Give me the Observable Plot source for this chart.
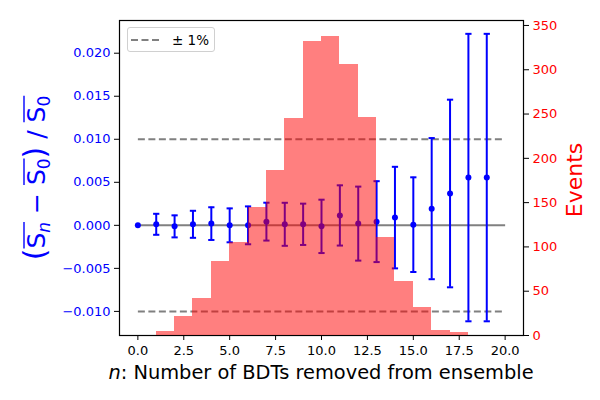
<!DOCTYPE html>
<html>
<head>
<meta charset="utf-8">
<script src="https://cdn.jsdelivr.net/npm/d3@7"></script>
<script src="https://cdn.jsdelivr.net/npm/@observablehq/plot@0.6"></script>
<style>
  body { margin: 0; background: #fff; }
  #wrap { position: relative; width: 600px; height: 400px; font-family: "DejaVu Sans", sans-serif; }
  #wrap svg { position: absolute; left: 0; top: 0; background: transparent; }
  #legend { position: absolute; left: 127px; top: 27px; width: 88px; height: 25px; border: 1px solid #d0d0d0; border-radius: 3px; background: rgba(255,255,255,0.8); box-sizing: border-box; font-size: 13px; }
</style>
</head>
<body>
<div id="wrap"></div>
<script>
// ---- data ----
const nRemoved = [0,1,2,3,4,5,6,7,8,9,10,11,12,13,14,15,16,17,18,19];
const relShift = [0,0.00012,-0.00012,0.00012,0.0002,0,0,0.00043,0.00012,0.00012,-0.00012,0.00115,0.0002,0.00043,0.0009,0.00008,0.00194,0.0037,0.00555,0.00555];
const relErr   = [0,0.00122,0.00128,0.00157,0.0019,0.00197,0.0022,0.0022,0.0025,0.0024,0.0031,0.0035,0.0043,0.0047,0.0059,0.0055,0.0082,0.0109,0.0167,0.0167];
const binStart = [1,2,3,4,5,6,7,8,9,10,11,12,13,14,15,16,17];
const binEnd   = [2,3,4,5,6,7,8,9,10,11,12,13,14,15,16,17,18];
const events   = [5,21,42,83,105,144,186,245,332,338,306,246,111,61,32,6,3];
const bandLevels = [-0.01, 0.01];
const refSpan = [0, 20];
const xTicks = [0,2.5,5,7.5,10,12.5,15,17.5,20];
const yTicks = [-0.01,-0.005,0,0.005,0.01,0.015,0.02];
const evTicks = [0,50,100,150,200,250,300,350];

const points = nRemoved.map((n,i)=>({n, v: relShift[i], e: relErr[i]}));
const hist = binStart.map((b,i)=>({x1: b, x2: binEnd[i], c: events[i]}));
const bands = bandLevels.map(y=>({y, x1: refSpan[0], x2: refSpan[1]}));
const zero = [{y: 0, x1: refSpan[0], x2: refSpan[1]}];

const W = 600, H = 400;
const M = {marginLeft: 119, marginRight: 77, marginTop: 20, marginBottom: 65};
const xDomain = [-1, 21];
const minus = s => s.replace("-", "\u2212");
const cap = 0.17;

const p1 = Plot.plot({
  width: W, height: H, ...M,
  style: {fontFamily: "DejaVu Sans, sans-serif", fontSize: "13px", background: "transparent"},
  x: {domain: xDomain},
  y: {domain: [-0.0128, 0.0238]},
  marks: [
    Plot.axisX({ticks: xTicks, tickFormat: d => d3.format(".1f")(d), tickSize: 5, tickPadding: 5, label: null, fill: "black", stroke: "black", fontSize: 13}),
    Plot.axisY({ticks: yTicks, tickFormat: d => minus(d3.format(".3f")(d)), tickSize: 5, tickPadding: 4, label: null, fill: "blue", stroke: "black", fontSize: 13}),
    Plot.link(zero, {x1: "x1", x2: "x2", y1: "y", y2: "y", stroke: "#808080", strokeWidth: 2}),
    Plot.link(bands, {x1: "x1", x2: "x2", y1: "y", y2: "y", stroke: "#808080", strokeWidth: 2, strokeDasharray: "7,3.5"}),
    Plot.ruleX(points.filter(d=>d.e>0), {x: "n", y1: d=>d.v-d.e, y2: d=>d.v+d.e, stroke: "blue", strokeWidth: 2}),
    Plot.link(points.filter(d=>d.e>0), {x1: d=>d.n-cap, x2: d=>d.n+cap, y1: d=>d.v+d.e, y2: d=>d.v+d.e, stroke: "blue", strokeWidth: 2}),
    Plot.link(points.filter(d=>d.e>0), {x1: d=>d.n-cap, x2: d=>d.n+cap, y1: d=>d.v-d.e, y2: d=>d.v-d.e, stroke: "blue", strokeWidth: 2}),
    Plot.dot(points, {x: "n", y: "v", r: 3, fill: "blue", stroke: "none"}),
    Plot.frame({stroke: "black", strokeWidth: 1.2})
  ]
});

const p2 = Plot.plot({
  width: W, height: H, ...M,
  style: {fontFamily: "DejaVu Sans, sans-serif", fontSize: "13px", background: "transparent"},
  x: {domain: xDomain, axis: null},
  y: {domain: [0, 355.6]},
  marks: [
    Plot.rectY(hist, {x1: "x1", x2: "x2", y: "c", fill: "red", fillOpacity: 0.5, inset: 0, shapeRendering: "crispEdges"}),
    Plot.axisY({anchor: "right", ticks: evTicks, tickSize: 5, tickPadding: 4, label: null, fill: "red", stroke: "black", fontSize: 13})
  ]
});

const wrap = document.getElementById("wrap");
wrap.appendChild(p1);
wrap.appendChild(p2);

// axis labels
const s2 = d3.select(p2);
s2.append("text")
  .attr("transform", "translate(582,180) rotate(-90)")
  .attr("text-anchor", "middle")
  .attr("fill", "red")
  .attr("font-size", 22)
  .attr("font-family", "DejaVu Sans")
  .text("Events");

const xl = s2.append("text")
  .attr("x", 321).attr("y", 379)
  .attr("text-anchor", "middle")
  .attr("fill", "black")
  .attr("font-size", 19.4)
  .attr("font-family", "DejaVu Sans");
xl.append("tspan").attr("font-style", "italic").text("n");
xl.append("tspan").text(": Number of BDTs removed from ensemble");

// left label: (S̄n − S̄0) / S̄0
const g = s2.append("g").attr("transform", "translate(45,178) rotate(-90)");
const yl = g.append("text")
  .attr("text-anchor", "middle")
  .attr("fill", "blue")
  .attr("font-size", 25)
  .attr("font-family", "DejaVu Sans");
yl.append("tspan").attr("font-size", 30).text("(");
const sA = yl.append("tspan").text("S");
const subA = yl.append("tspan").attr("font-size", 17).attr("font-style", "italic").attr("dy", 5).text("n");
yl.append("tspan").attr("dy", -5).text(" \u2212 ");
const sB = yl.append("tspan").text("S");
const subB = yl.append("tspan").attr("font-size", 17).attr("dy", 5).text("0");
yl.append("tspan").attr("dy", -5).attr("font-size", 30).text(")");
yl.append("tspan").text(" / ");
const sC = yl.append("tspan").text("S");
const subC = yl.append("tspan").attr("font-size", 17).attr("dy", 5).text("0");

function extentOf(a, b) {
  const ba = a.node().getBBox(), bb = b.node().getBBox();
  return [ba.x, bb.x + bb.width];
}
[[sA, subA], [sB, subB], [sC, subC]].forEach(([a, b]) => {
  const [x0, x1] = extentOf(a, b);
  g.append("line").attr("x1", x0).attr("x2", x1)
    .attr("y1", -21).attr("y2", -21)
    .attr("stroke", "blue").attr("stroke-width", 1.4);
});

// legend
const lg = document.createElement("div");
lg.id = "legend";
lg.innerHTML = '<svg width="88" height="25" style="position:absolute;left:0;top:0"><line x1="3" x2="33" y1="12" y2="12" stroke="#808080" stroke-width="2" stroke-dasharray="7,3.5"/><text x="44" y="17" font-size="13.5" font-family="DejaVu Sans" fill="black">\u00b1 1%</text></svg>';
wrap.appendChild(lg);
</script>
</body>
</html>
